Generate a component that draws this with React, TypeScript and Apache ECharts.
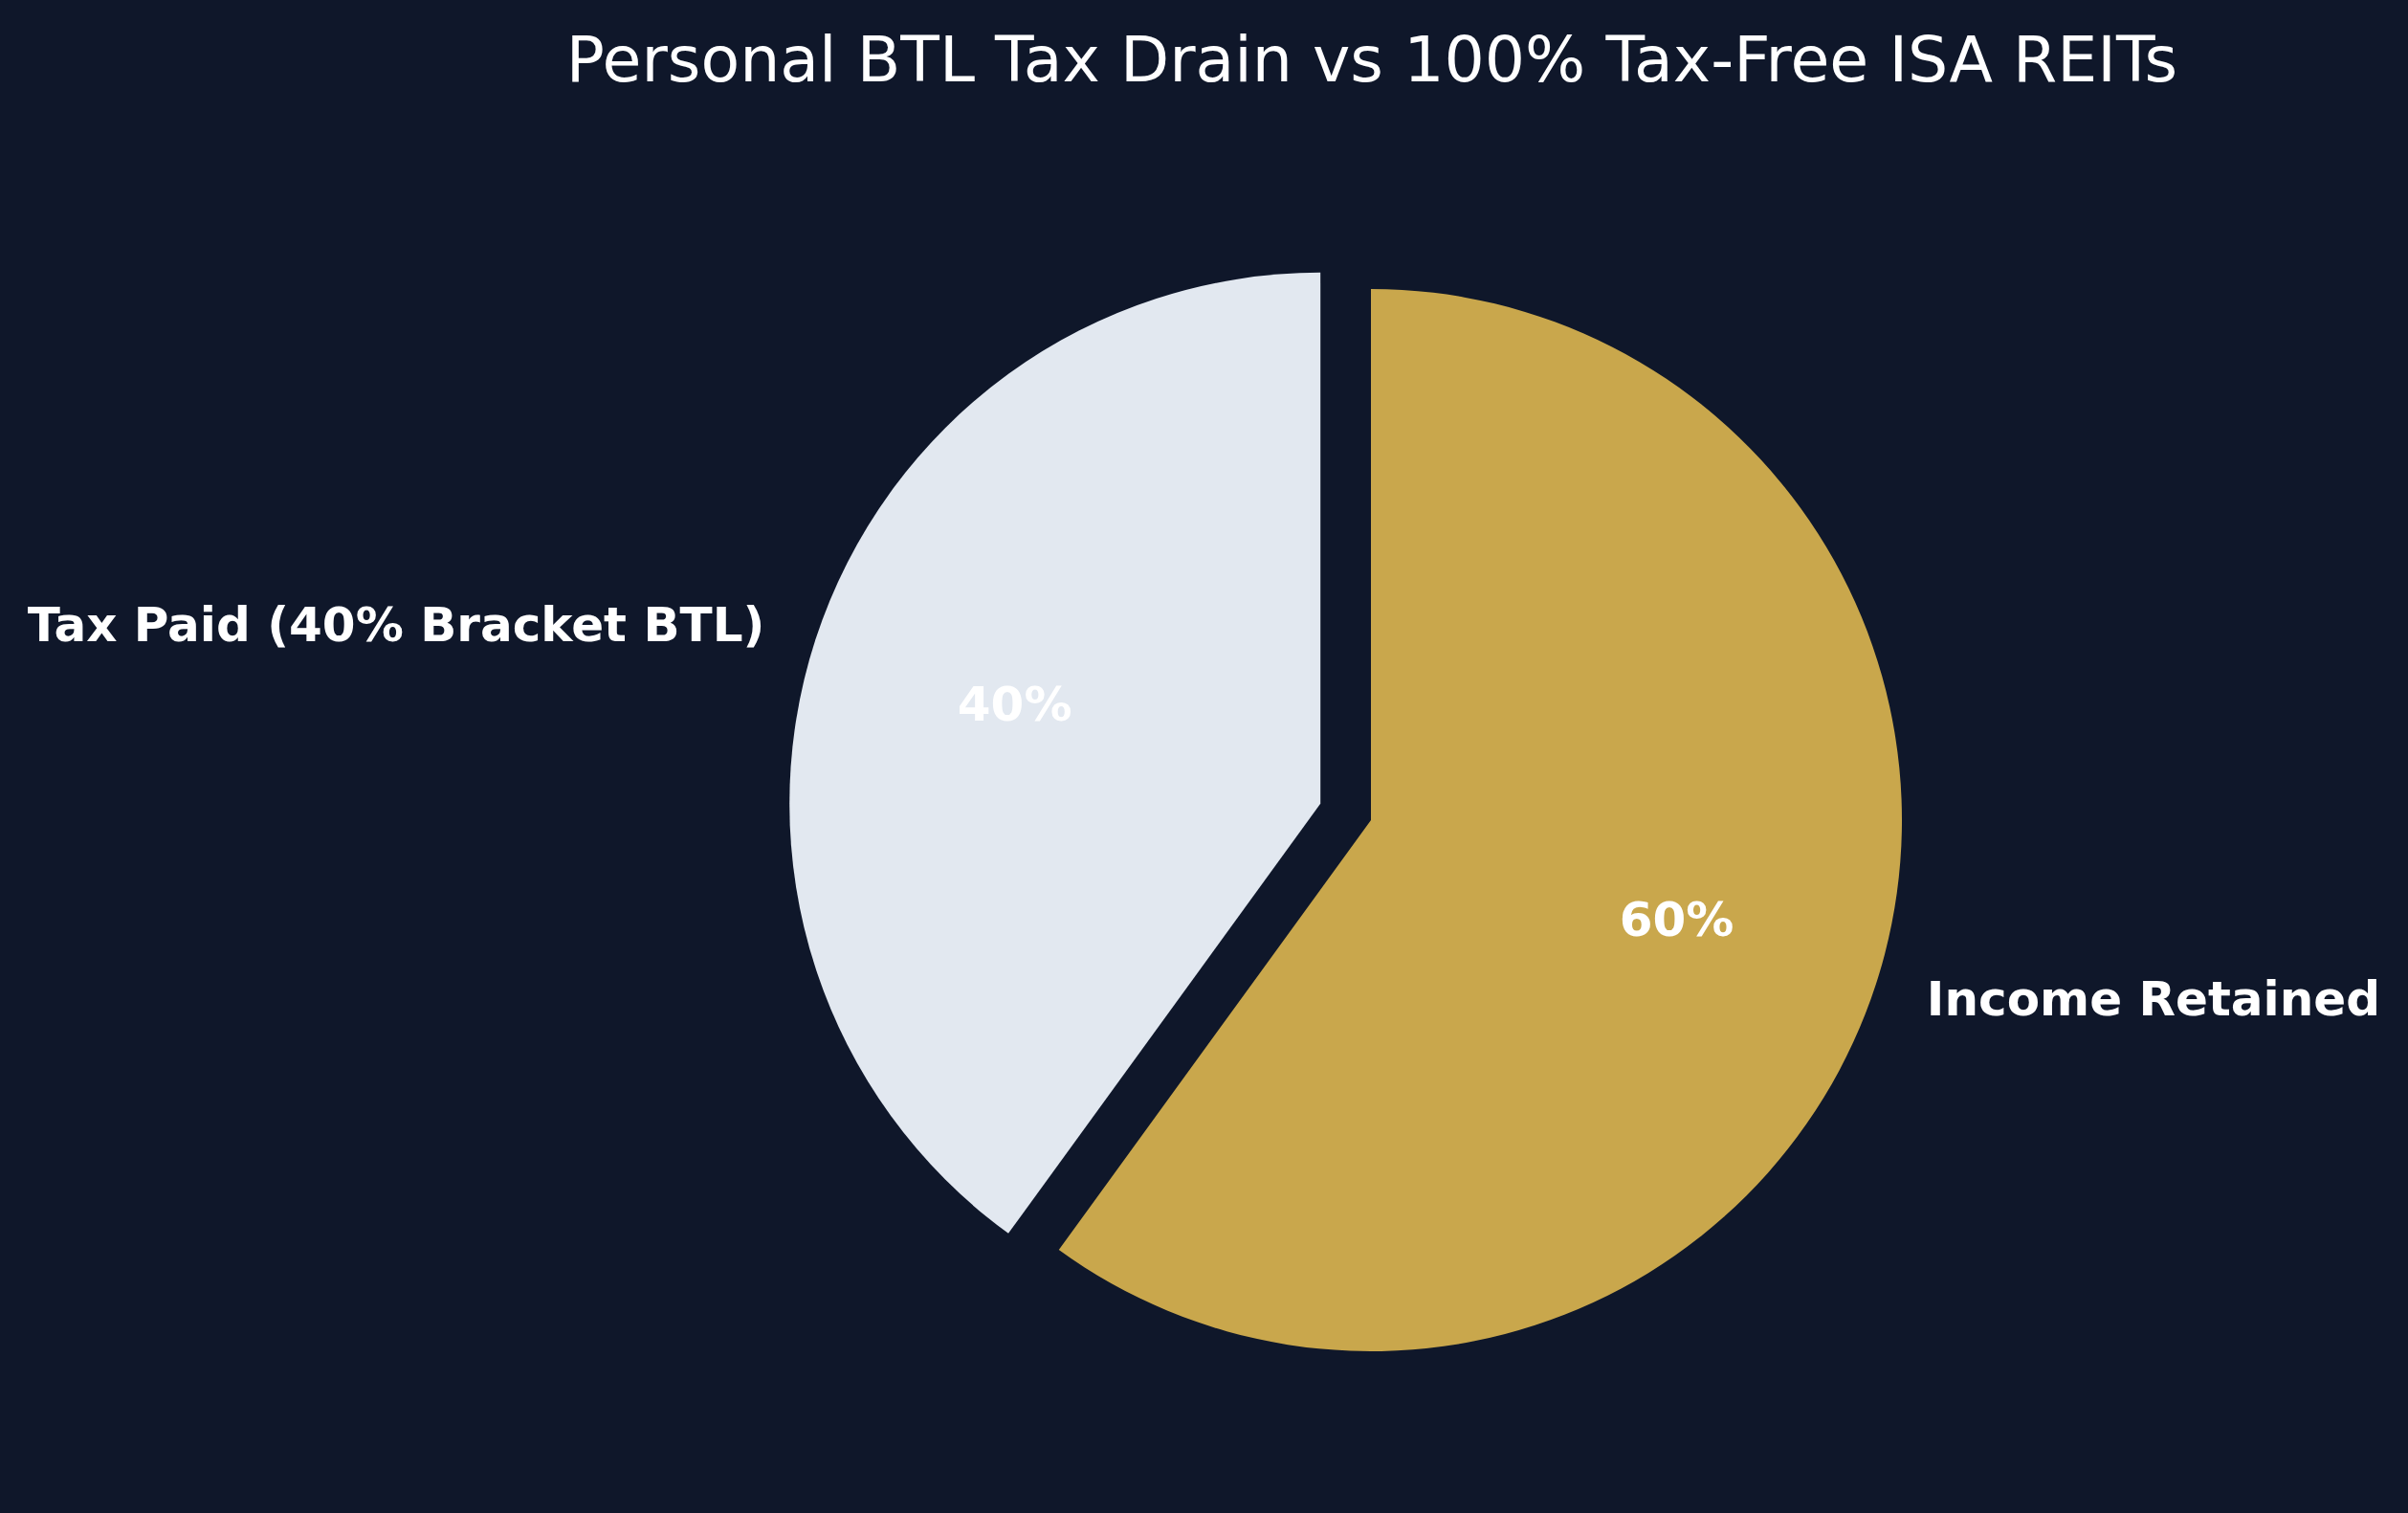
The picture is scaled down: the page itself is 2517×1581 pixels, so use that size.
import React, { useEffect, useRef } from "react";
import * as echarts from "echarts";

const categories: string[] = ["Tax Paid (40% Bracket BTL)", "Income Retained"];
const values: number[] = [40, 60];
const colors: string[] = ["#e2e8f0", "#c9a74c"];
const exploded: boolean[] = [true, false];
const titleText = "Personal BTL Tax Drain vs 100% Tax-Free ISA REITs";

const W = 2517;
const H = 1581;
const CX = 1433;
const CY = 857;
const R = 555;
const FONT = "DejaVu Sans";

export default function App() {
  const ref = useRef<HTMLDivElement | null>(null);
  useEffect(() => {
    if (!ref.current) return;
    const chart = echarts.init(ref.current, undefined, { renderer: "svg" });
    const mainData = categories.map((name, i) => ({
      name,
      value: values[i],
      selected: exploded[i],
      itemStyle: { color: colors[i] },
    }));
    const pctData = categories.map((name, i) => ({
      name,
      value: values[i],
      selected: exploded[i],
      itemStyle: { color: "rgba(0,0,0,0)" },
    }));
    chart.setOption({
      animation: false,
      backgroundColor: "#0f172a",
      title: {
        text: titleText,
        left: CX - 4,
        top: 23,
        textAlign: "center",
        textStyle: {
          color: "#ffffff",
          fontFamily: FONT,
          fontWeight: "normal",
          fontSize: 66.5,
        },
      },
      series: [
        {
          type: "pie",
          center: [CX, CY],
          radius: [0, R],
          startAngle: 90,
          clockwise: false,
          selectedMode: "single",
          selectedOffset: R * 0.1,
          avoidLabelOverlap: false,
          silent: true,
          emphasis: { disabled: true },
          itemStyle: { borderWidth: 0 },
          label: {
            show: true,
            position: "outside",
            color: "#ffffff",
            fontFamily: FONT,
            fontWeight: "bold",
            fontSize: 50,
            formatter: "{b}",
          },
          labelLine: { show: false, length: R * 0.1 - 5, length2: 0 },
          data: mainData,
        },
        {
          type: "pie",
          center: [CX, CY],
          radius: [R * 0.2, R],
          startAngle: 90,
          clockwise: false,
          selectedMode: "single",
          selectedOffset: R * 0.1,
          silent: true,
          emphasis: { disabled: true },
          itemStyle: { borderWidth: 0 },
          label: {
            show: true,
            position: "inside",
            color: "#ffffff",
            fontFamily: FONT,
            fontWeight: "bold",
            fontSize: 50,
            formatter: (p: any) => `${Math.round(p.percent)}%`,
          },
          labelLine: { show: false },
          data: pctData,
        },
      ],
    });
    return () => chart.dispose();
  }, []);
  return (
    <div
      ref={ref}
      style={{ position: "absolute", left: 0, top: 0, width: W, height: H }}
    />
  );
}
